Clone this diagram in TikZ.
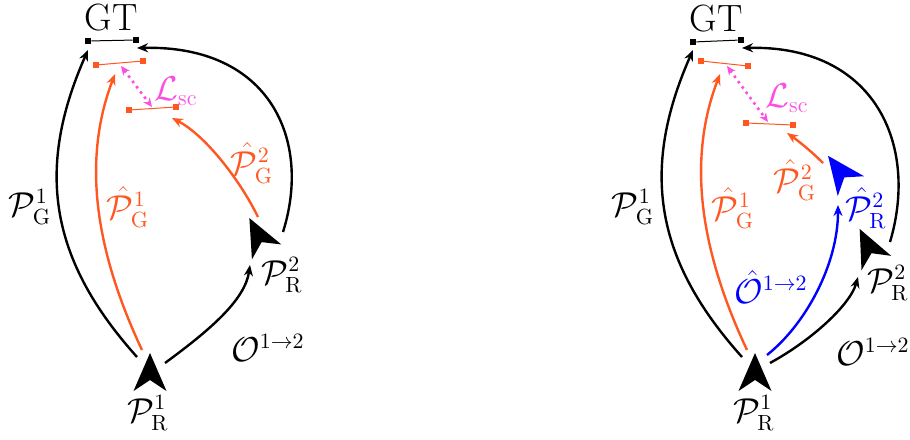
\documentclass[tikz,border=0pt]{standalone}
\usepackage{amsmath}
\usetikzlibrary{arrows.meta, positioning}
\definecolor{gtorange}{RGB}{255,87,34}
\definecolor{scpink}{RGB}{250,80,225}
\definecolor{estblue}{RGB}{0,0,255}

\tikzset{
  pose/.pic={\fill (0,-19) -- (16.5,19) -- (0,8) -- (-16.5,19) -- cycle;},
  endpt/.style={rectangle, fill, inner sep=0pt, minimum size=3pt},
  trajline/.style={line width=1.2pt, -{Stealth[length=5.5pt, width=4.5pt]}},
  barline/.style={line width=0.5pt},
  scline/.style={scpink, line width=1.3pt, dotted, {Stealth[length=4.5pt, width=4pt]}-{Stealth[length=4.5pt, width=4pt]}},
  lbl/.style={inner sep=0pt},
  gtlbl/.style={inner sep=0pt, font=\fontsize{19}{22}\selectfont}
}

\begin{document}
\begin{tikzpicture}[x=0.5pt, y=-0.5pt, font=\fontsize{16}{19}\selectfont]

    \useasboundingbox (0,0) rectangle (910,439);

    % ---------------- Left diagram ----------------
    % Ground truth and predicted segments
    \node[gtlbl] (gt) at (111,18) {GT};
    \node[endpt] (gta) at (88,41) {};
    \node[endpt] (gtb) at (136,40) {};
    \draw[barline] (gta) -- (gtb);
    \node[endpt, gtorange, minimum size=2.6pt] (oa) at (96,65) {};
    \node[endpt, gtorange, minimum size=2.6pt] (ob) at (143,61) {};
    \draw[barline, gtorange] (oa) -- (ob);
    \node[endpt, gtorange, minimum size=2.6pt] (pa) at (129,110) {};
    \node[endpt, gtorange, minimum size=2.6pt] (pb) at (176,107) {};
    \draw[barline, gtorange] (pa) -- (pb);

    % Consistency loss
    \coordinate (sctop) at (121,66);
    \coordinate (scbot) at (152,107);
    \draw[scline] (sctop) -- (scbot);
    \node[lbl, scpink] (lsc) at (176,91) {$\mathcal{L}_{\text{sc}}$};

    % Robot poses
    \pic at (150,372) {pose};
    \pic[rotate=27] at (258,235) {pose};
    \node[lbl] (pr1) at (148,413) {$\mathcal{P}^1_{\mathrm{R}}$};
    \node[lbl] (pr2) at (282,275) {$\mathcal{P}^2_{\mathrm{R}}$};

    % Connectors
    \coordinate (s1) at (137,357);
    \coordinate (s2) at (142,350);
    \coordinate (s3) at (165,363);
    \coordinate (e3) at (250,265);
    \coordinate (e1) at (88,50);
    \coordinate (e2) at (115,74);
    \coordinate (s4) at (258,217);
    \coordinate (e4) at (172,118);
    \coordinate (s5) at (283,232);
    \coordinate (e5) at (137,48);

    \draw[trajline] (s1) .. controls (50,260) and (35,170) .. (e1);
    \draw[trajline, gtorange] (s2) .. controls (95,250) and (82,160) .. (e2);
    \draw[trajline] (s3) .. controls (210,330) and (245,300) .. (e3);
    \draw[trajline, gtorange] (s4) .. controls (240,180) and (205,135) .. (e4);
    \draw[trajline] (s5) .. controls (312,140) and (270,45) .. (e5);

    \node[lbl] (pg1) at (30,207) {$\mathcal{P}^1_{\mathrm{G}}$};
    \node[lbl, gtorange] (hpg1) at (128,207) {$\hat{\mathcal{P}}^1_{\mathrm{G}}$};
    \node[lbl, gtorange] (hpg2) at (252,163) {$\hat{\mathcal{P}}^2_{\mathrm{G}}$};
    \node[lbl] (odom) at (268,348) {$\mathcal{O}^{1\rightarrow 2}$};

    % ---------------- Right diagram ----------------
    \node[gtlbl] (gtr) at (716,19) {GT};
    \node[endpt] (gtra) at (693,42) {};
    \node[endpt] (gtrb) at (741,40) {};
    \draw[barline] (gtra) -- (gtrb);
    \node[endpt, gtorange, minimum size=2.6pt] (ora) at (701,61) {};
    \node[endpt, gtorange, minimum size=2.6pt] (orb) at (748,66) {};
    \draw[barline, gtorange] (ora) -- (orb);
    \node[endpt, gtorange, minimum size=2.6pt] (pra) at (746,123) {};
    \node[endpt, gtorange, minimum size=2.6pt] (prb) at (793,125) {};
    \draw[barline, gtorange] (pra) -- (prb);

    \coordinate (srtop) at (727,66);
    \coordinate (srbot) at (768,122);
    \draw[scline] (srtop) -- (srbot);
    \node[lbl, scpink] (lscr) at (787,98) {$\mathcal{L}_{\text{sc}}$};

    \pic at (755,372) {pose};
    \pic[rotate=26] at (868,246) {pose};
    \pic[estblue, rotate=37] at (839.5,171) {pose};
    \node[lbl] (pr1r) at (754,413) {$\mathcal{P}^1_{\mathrm{R}}$};
    \node[lbl] (pr2r) at (888,283) {$\mathcal{P}^2_{\mathrm{R}}$};

    \coordinate (r1) at (742,357);
    \coordinate (f1) at (693,50);
    \coordinate (r2) at (747,350);
    \coordinate (f2) at (720,74);
    \coordinate (r3) at (767,355);
    \coordinate (f3) at (838,205);
    \coordinate (r4) at (770,363);
    \coordinate (f4) at (858,277);
    \coordinate (r5) at (890,242);
    \coordinate (f5) at (742,48);
    \coordinate (r6) at (823,163);
    \coordinate (f6) at (787,133);

    \draw[trajline] (r1) .. controls (655,260) and (640,170) .. (f1);
    \draw[trajline, gtorange] (r2) .. controls (700,250) and (687,160) .. (f2);
    \draw[trajline, estblue] (r3) .. controls (805,325) and (838,265) .. (f3);
    \draw[trajline] (r4) .. controls (812,340) and (850,305) .. (f4);
    \draw[trajline] (r5) .. controls (919,145) and (875,45) .. (f5);
    \draw[trajline, gtorange] (r6) .. controls (810,150) and (797,140) .. (f6);

    \node[lbl] (pg1r) at (633,207) {$\mathcal{P}^1_{\mathrm{G}}$};
    \node[lbl, gtorange] (hpg1r) at (733,208) {$\hat{\mathcal{P}}^1_{\mathrm{G}}$};
    \node[lbl, gtorange] (hpg2r) at (795,180) {$\hat{\mathcal{P}}^2_{\mathrm{G}}$};
    \node[lbl, estblue] (hpr2r) at (866,208) {$\hat{\mathcal{P}}^2_{\mathrm{R}}$};
    \node[lbl, estblue] (hodom) at (771,287) {$\hat{\mathcal{O}}^{1\rightarrow 2}$};
    \node[lbl] (odomr) at (873,352) {$\mathcal{O}^{1\rightarrow 2}$};

\end{tikzpicture}
\end{document}
